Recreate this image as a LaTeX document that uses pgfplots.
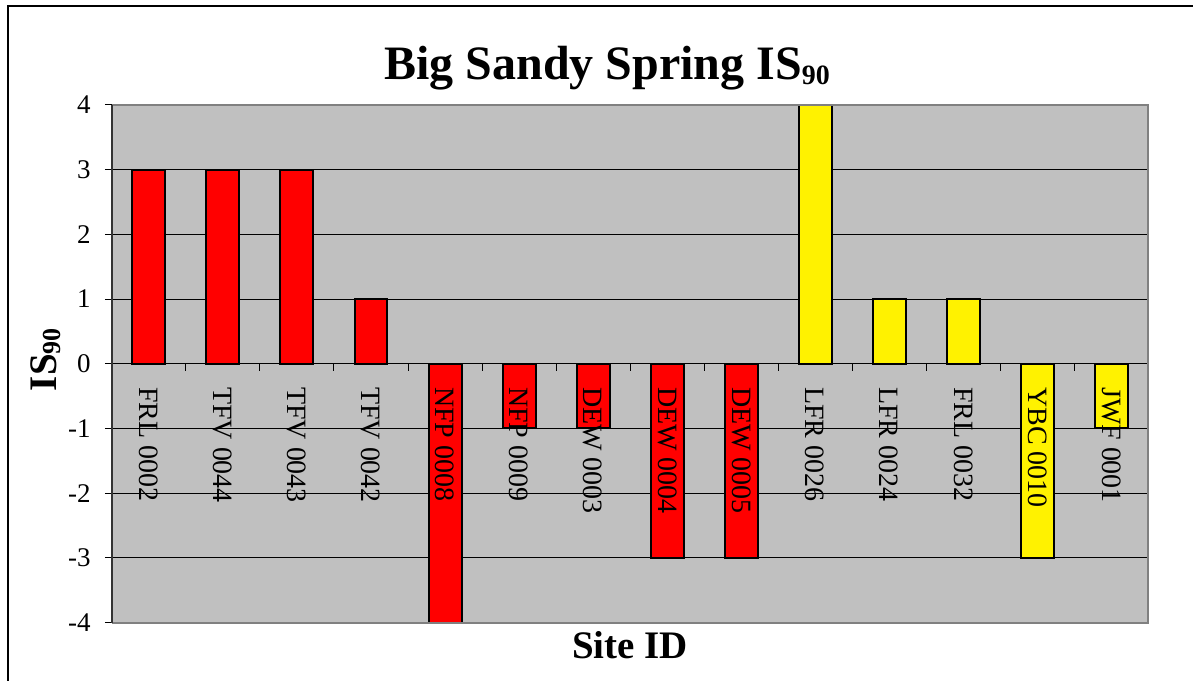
\documentclass[border=0pt]{standalone}
\usepackage{pgfplots}
\pgfplotsset{compat=1.18}
\usepackage{fontspec}
\setmainfont{Liberation Serif}
\definecolor{plotbg}{RGB}{192,192,192}
\definecolor{frame}{RGB}{128,128,128}
\begin{document}
\begin{tikzpicture}
\path (0,0) rectangle (597pt,-340.5pt);
% outer chart frame
\draw[black, line width=0.8pt] (4pt,-340.5pt) -- (4pt,-3pt) -- (597pt,-3pt);
\begin{axis}[
  set layers,
  width=518.5pt, height=259pt, scale only axis,
  at={(56pt,-311.5pt)}, anchor=south west,
  xmin=-0.5, xmax=13.5, ymin=-4, ymax=4,
  axis x line*=middle, axis y line*=left,
  axis background/.style={fill=plotbg},
  x axis line style={black, line width=0.7pt},
  y axis line style={black!80, line width=0.8pt},
  ytick={-4,...,4},
  yticklabels={-4,-3,-2,-1,0,1,2,3,4},
  ymajorgrids, grid style={black, line width=0.5pt},
  tick align=outside, major tick length=3.5pt,
  ytick style={black, line width=0.5pt},
  yticklabel style={font=\fontsize{13.5}{13.5}\selectfont, inner sep=0pt, xshift=-7pt},
  xtick={0,...,13},
  xtick style={draw=none},
  xticklabels={FRL 0002,TFV 0044,TFV 0043,TFV 0042,NFP 0008,NFP 0009,DEW 0003,DEW 0004,DEW 0005,LFR 0026,LFR 0024,FRL 0032,YBC 0010,JWF 0001},
  % names sit over the bars
  xticklabel style={/pgfplots/on layer=axis foreground, font=\fontsize{14}{14}\selectfont, yshift=-8pt, rotate=-90, anchor=west, inner sep=0pt},
  title={\textbf{Big Sandy Spring IS{\fontsize{14}{14}\selectfont\raisebox{-2.5pt}{90}}}},
  title style={font=\fontsize{24}{24}\selectfont, at={(axis description cs:0.478,1)}, anchor=base, yshift=6.5pt},
  xlabel={\textbf{Site ID}},
  xlabel style={font=\fontsize{19.5}{19.5}\selectfont, at={(axis description cs:0.5,0)}, anchor=base, yshift=-18pt},
  ylabel={\textbf{IS{\fontsize{13}{13}\selectfont\raisebox{-2pt}{90}}}},
  ylabel style={font=\fontsize{19.5}{19.5}\selectfont, at={(axis description cs:0,0.508)}, anchor=base, yshift=27.5pt},
  ybar, bar width=16.5pt,
  clip=false,
]
\addplot[ybar, bar shift=0pt, fill=red, draw=black, line width=1pt] coordinates {
  (0,3) (1,3) (2,3) (3,1) (4,-4) (5,-1) (6,-1) (7,-3) (8,-3)
};
\addplot[ybar, bar shift=0pt, fill=yellow, draw=black, line width=1pt] coordinates {
  (9,4) (10,1) (11,1) (12,-3) (13,-1)
};
\pgfplotsinvokeforeach{0.5,1.5,2.5,3.5,4.5,5.5,6.5,7.5,8.5,9.5,10.5,11.5,12.5,13.5}{
  \draw[black, line width=0.5pt] (axis cs:#1,0) -- ++(0pt,-3.5pt);
}
\draw[frame, line width=1pt] (rel axis cs:0,0) -- (rel axis cs:1,0) -- (rel axis cs:1,1) -- (rel axis cs:0,1);
\draw[black!80, line width=0.8pt] (rel axis cs:0,0) -- (rel axis cs:0,1);
\end{axis}
\end{tikzpicture}
\end{document}
